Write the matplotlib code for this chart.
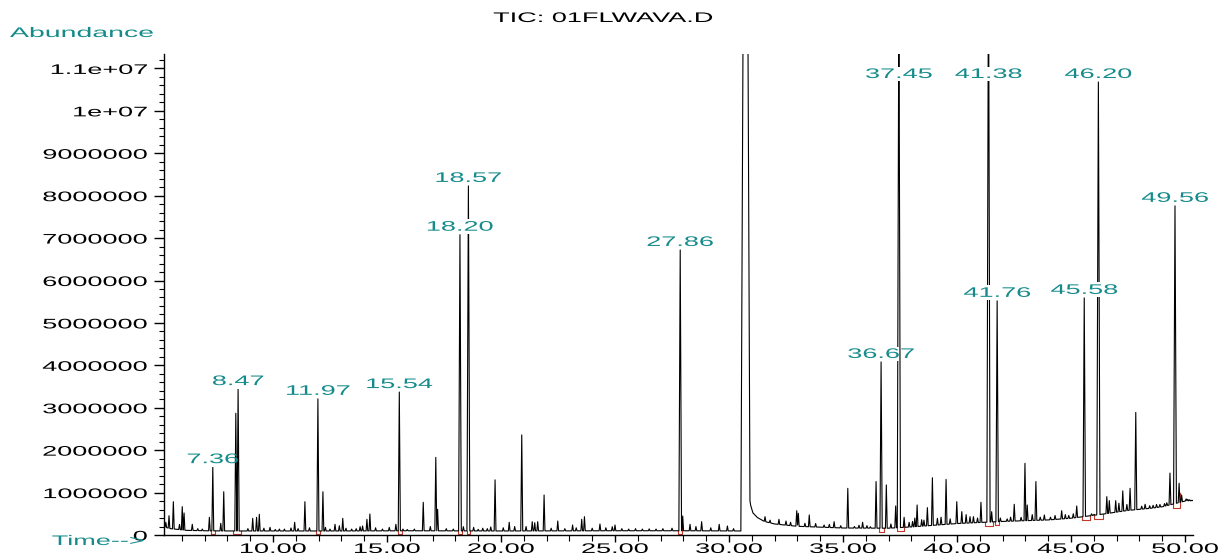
import numpy as np
import matplotlib
matplotlib.use('Agg')
import matplotlib.pyplot as plt
from matplotlib.patheffects import AbstractPathEffect
from matplotlib.transforms import Affine2D
from matplotlib.ticker import MultipleLocator

plt.rcParams['font.family'] = ['Liberation Sans', 'DejaVu Sans']
plt.rcParams['font.size'] = 10

TEAL = '#168b8b'

# baseline of the TIC (min, abundance), including the solvent tail after 30.8 min
base_t = [5.22, 5.5, 6.2, 7.0, 8.0, 10.0, 13.0, 16.0, 20.0, 25.0, 28.0, 30.6,
          30.85, 30.95, 31.05, 31.25, 31.55, 32.0, 33.0, 35.0, 37.0, 38.0,
          40.0, 42.0, 44.0, 45.0, 46.5, 47.5, 48.5, 49.0, 50.0, 50.35]
base_v = [190e3, 150e3, 110e3, 100e3, 95e3, 95e3, 95e3, 100e3, 95e3, 100e3, 100e3, 95e3,
          1.05e6, 700e3, 520e3, 410e3, 320e3, 260e3, 205e3, 165e3, 160e3, 190e3,
          270e3, 320e3, 355e3, 395e3, 500e3, 580e3, 630e3, 665e3, 800e3, 810e3]

# peak apexes (min, abundance)
peak_t = [5.44, 5.63, 6.02, 6.10, 6.46, 7.21, 7.36, 7.71, 7.84, 8.37, 8.47,
          9.11, 9.28, 9.40, 9.87, 10.28, 10.79, 10.95, 11.40, 11.97, 12.19,
          12.50, 12.72, 12.91, 13.06, 13.45, 13.82, 13.93, 14.12, 14.25,
          15.10, 15.39, 15.54, 15.89, 16.59, 17.14, 17.22, 17.91, 18.20, 18.35,
          18.57, 19.00, 19.40, 19.74, 20.36, 20.91, 21.37, 21.48, 21.61, 21.89,
          22.49, 23.14, 23.54, 23.66, 24.34, 24.88, 25.00, 25.60, 26.20, 26.80,
          27.86, 27.97, 28.29, 28.80, 29.57, 29.93, 30.72,
          31.58, 32.19, 32.97, 33.04, 33.33, 33.52, 34.17, 34.61, 34.90, 35.21,
          35.50, 35.86, 36.20, 36.45, 36.67, 36.90, 37.31, 37.45, 37.68, 37.90,
          38.05, 38.25, 38.45, 38.70, 38.92, 39.14, 39.30, 39.52, 39.99, 40.21,
          40.57, 40.72, 40.90, 41.05, 41.38, 41.52, 41.76, 42.20, 42.51, 42.81,
          42.98, 43.08, 43.46, 43.83, 44.10, 44.59, 44.90, 45.25, 45.58, 46.01,
          46.20, 46.57, 46.68, 46.96, 47.27, 47.59, 47.84, 48.25, 48.60, 48.90,
          49.34, 49.56, 49.74, 49.85, 50.05, 50.20]
peak_h = [455e3, 785e3, 668e3, 520e3, 252e3, 417e3, 1.60e6, 275e3, 1.02e6, 2.87e6, 3.44e6,
          393e3, 417e3, 488e3, 180e3, 140e3, 165e3, 300e3, 785e3, 3.21e6, 1.02e6,
          140e3, 252e3, 220e3, 393e3, 140e3, 196e3, 212e3, 370e3, 495e3,
          180e3, 252e3, 3.37e6, 130e3, 771e3, 1.83e6, 606e3, 140e3, 7.08e6, 196e3,
          8.23e6, 134e3, 150e3, 1.30e6, 300e3, 2.36e6, 314e3, 290e3, 314e3, 943e3,
          330e3, 236e3, 370e3, 432e3, 260e3, 196e3, 236e3, 140e3, 140e3, 140e3,
          6.72e6, 448e3, 252e3, 314e3, 252e3, 212e3, 2.5e7,
          432e3, 370e3, 573e3, 512e3, 275e3, 472e3, 236e3, 314e3, 220e3, 1.10e6,
          200e3, 300e3, 195e3, 1.26e6, 4.08e6, 1.18e6, 684e3, 1.3e7, 417e3, 300e3,
          320e3, 708e3, 360e3, 645e3, 1.35e6, 393e3, 420e3, 1.31e6, 785e3, 550e3,
          432e3, 432e3, 400e3, 771e3, 1.4e7, 550e3, 5.52e6, 380e3, 724e3, 417e3,
          1.69e6, 708e3, 1.26e6, 472e3, 420e3, 573e3, 460e3, 684e3, 5.59e6, 488e3,
          10.68e6, 904e3, 810e3, 810e3, 1.04e6, 1.10e6, 2.89e6, 724e3, 700e3, 720e3,
          1.46e6, 7.76e6, 1.22e6, 943e3, 850e3, 830e3]

# small baseline bumps (min, abundance)
bump_t = [5.30, 5.90, 6.70, 6.90, 8.90, 9.60, 10.10, 10.50, 11.10, 11.60, 12.30,
          13.20, 13.65, 14.50, 14.80, 15.70, 16.20, 16.90, 17.60, 18.80, 19.20,
          19.55, 20.10, 20.60, 21.10, 22.20, 22.80, 23.30, 24.00, 24.60, 25.30,
          25.90, 26.50, 27.10, 27.50, 28.55, 29.20, 30.20, 31.80, 32.50, 32.70,
          33.80, 34.40, 35.70, 36.05, 37.10, 38.15, 38.55, 39.70, 40.40, 41.90,
          42.35, 43.30, 43.65, 44.30, 44.75, 45.10, 45.90, 47.10, 47.45, 48.10,
          48.45, 48.75, 49.10, 49.20, 50.12, 50.30]
bump_h = [300e3, 250e3, 150e3, 140e3, 150e3, 160e3, 130e3, 140e3, 150e3, 170e3, 180e3,
          160e3, 150e3, 170e3, 140e3, 140e3, 140e3, 200e3, 150e3, 180e3, 160e3,
          190e3, 170e3, 200e3, 200e3, 160e3, 150e3, 170e3, 160e3, 170e3, 150e3,
          150e3, 145e3, 150e3, 160e3, 200e3, 170e3, 150e3, 350e3, 330e3, 300e3,
          270e3, 250e3, 230e3, 220e3, 260e3, 400e3, 350e3, 380e3, 480e3, 400e3,
          420e3, 480e3, 420e3, 460e3, 480e3, 500e3, 500e3, 750e3, 720e3, 680e3,
          690e3, 720e3, 740e3, 760e3, 840e3, 820e3]

# integrated peaks: retention time label, integration window
label_t = [7.36, 8.47, 11.97, 15.54, 18.20, 18.57, 27.86,
           36.67, 37.45, 41.38, 41.76, 45.58, 46.20, 49.56]
int_start = [7.30, 8.26, 11.90, 15.48, 18.12, 18.50, 27.78,
             36.58, 37.36, 41.24, 41.66, 45.50, 46.02, 49.46]
int_end = [7.45, 8.58, 12.05, 15.64, 18.28, 18.66, 27.95,
           36.80, 37.66, 41.58, 41.86, 45.82, 46.42, 49.76]

ytick_vals = [0, 1e6, 2e6, 3e6, 4e6, 5e6, 6e6, 7e6, 8e6, 9e6, 1e7, 1.1e7]
ytick_text = ['0', '1000000', '2000000', '3000000', '4000000', '5000000',
              '6000000', '7000000', '8000000', '9000000', '1e+07', '1.1e+07']
xtick_vals = [10, 15, 20, 25, 30, 35, 40, 45, 50]
xtick_text = ['%.2f' % v for v in xtick_vals]


class Wide(AbstractPathEffect):
    """draw text glyphs stretched horizontally (wide instrument font)"""
    def __init__(self, sx=1.95, anchor='center'):
        super().__init__()
        self.sx = sx
        self.anchor = anchor

    def draw_path(self, renderer, gc, tpath, affine, rgbFace=None):
        ext = tpath.get_extents(affine)
        if self.anchor == 'right':
            x0 = ext.x1
        elif self.anchor == 'left':
            x0 = ext.x0
        else:
            x0 = 0.5 * (ext.x0 + ext.x1)
        tr = affine + Affine2D().translate(-x0, 0).scale(self.sx, 1).translate(x0, 0)
        renderer.draw_path(gc, tpath, tr, rgbFace)


all_t = peak_t + bump_t
all_h = peak_h + bump_h


def half_width(t, h):
    if t == 30.72:
        return 0.2
    return 0.035 + 0.035 * min(h, 1e7) / 1e7


def tic(t):
    t = np.asarray(t, float)
    y = np.interp(t, base_t, base_v)
    for tp, hp in zip(all_t, all_h):
        w = half_width(tp, hp)
        rise = max(hp - np.interp(tp, base_t, base_v), 0)
        y = y + rise * np.clip(1 - np.abs(t - tp) / w, 0, None)
    return y


verts = list(base_t)
for tp, hp in zip(all_t, all_h):
    w = half_width(tp, hp)
    verts += [tp - w, tp, tp + w]
verts = np.unique(np.clip(verts, base_t[0], base_t[-1]))

fig = plt.figure(figsize=(12.23, 5.53), dpi=100)
ax = fig.add_axes([164 / 1223, 18 / 553, 1029 / 1223, 481 / 553])

ax.plot(verts, tic(verts), color='black', lw=0.8, zorder=2)

# integration baselines
for t0, t1 in zip(int_start, int_end):
    lvl = min(np.interp(t0, base_t, base_v), np.interp(t1, base_t, base_v)) - 80e3
    ax.plot([t0, t0, t1, t1], [tic(t0), lvl, lvl, tic(t1)],
            color='#c0392b', lw=0.8, zorder=1.5)

# retention time labels
for lt in label_t:
    h = peak_h[peak_t.index(lt)]
    ax.annotate('%.2f' % lt, xy=(lt, min(h, 10.68e6)), xytext=(0, 8),
                textcoords='offset pixels', ha='center', va='center',
                color=TEAL, fontsize=10, zorder=3, annotation_clip=False,
                bbox=dict(fc='white', ec='none', pad=0.3),
                path_effects=[Wide(1.95, 'center')])

ax.set_xlim(5.22, 50.35)
ax.set_ylim(0, 11.34e6)

ax.set_yticks(ytick_vals, ytick_text)
ax.yaxis.set_minor_locator(MultipleLocator(2e5))
ax.set_xticks(xtick_vals, xtick_text)
ax.xaxis.set_minor_locator(MultipleLocator(1))

ax.tick_params(axis='y', which='major', length=7, width=1, pad=5, labelsize=10)
ax.tick_params(axis='y', which='minor', length=3.5, width=0.8)
ax.tick_params(axis='x', which='major', length=5, width=1, pad=0, labelsize=10)
ax.tick_params(axis='x', which='minor', length=4, width=0.8)
for lbl in ax.get_yticklabels():
    lbl.set_path_effects([Wide(1.95, 'right')])
for lbl in ax.get_xticklabels():
    lbl.set_path_effects([Wide(1.95, 'center')])

for s in ['top', 'right']:
    ax.spines[s].set_visible(False)
ax.spines['left'].set_linewidth(1)
ax.spines['bottom'].set_linewidth(1)

fig.text(603 / 1223, 1 - 18 / 553, 'TIC: 01FLWAVA.D', ha='center', va='center',
         fontsize=10, color='black', path_effects=[Wide(1.95, 'center')])
fig.text(10 / 1223, 1 - 33 / 553, 'Abundance', ha='left', va='center',
         fontsize=10, color=TEAL, path_effects=[Wide(2.05, 'left')])
fig.text(52 / 1223, 1 - 541 / 553, 'Time-->', ha='left', va='center',
         fontsize=10, color=TEAL, path_effects=[Wide(1.95, 'left')])

fig.savefig('out.png', dpi=100)
